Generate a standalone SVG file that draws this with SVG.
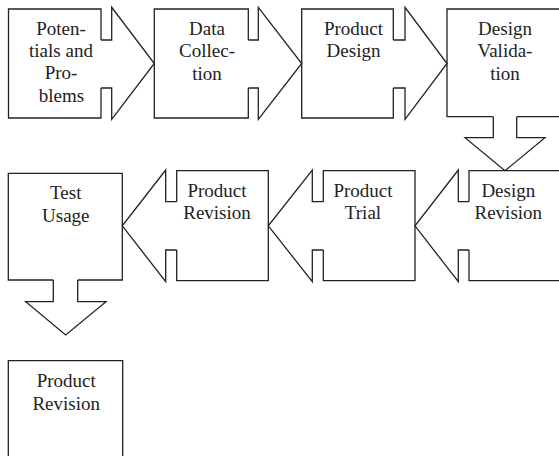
<svg xmlns="http://www.w3.org/2000/svg" width="559" height="456" viewBox="0 0 559 456">
<style>
.box{fill:none;stroke:#222;stroke-width:1.3;stroke-linejoin:miter}
.arr{fill:none;stroke:#222;stroke-width:1.3;stroke-linejoin:miter}
text{font-family:"Liberation Serif","Times New Roman",serif;font-size:19px;fill:#222;text-anchor:middle}
</style>
<rect x="0" y="0" width="559" height="456" fill="#fff"/>
<g id="connectors">
<path class="arr" d="M101,40 H111.7 V7.3 L154.3,63.5 L111.7,119.3 V88 H101"/>
<path class="arr" d="M248.3,40 H258.3 V7.3 L301.7,63.5 L258.3,119.3 V88 H248.3"/>
<path class="arr" d="M393.3,40 H405 V7.3 L447,63.5 L405,119.3 V88 H393.3"/>
<path class="arr" d="M493.3,116.7 V137.7 H465 L505,170.7 L545,137.7 H516.7 V116.7"/>
<path class="arr" d="M469,201.7 H458.3 V170 L415,225.8 L458.3,281.7 V250 H469"/>
<path class="arr" d="M323.3,201.7 H312.3 V170 L268.3,225.8 L312.3,281.7 V250 H323.3"/>
<path class="arr" d="M176.7,201.7 H165.7 V170 L122.3,225.8 L165.7,281.7 V250 H176.7"/>
<path class="arr" d="M53.3,280 V301.7 H25.7 L65.7,335 L106,301.7 H77.7 V280"/>
</g>
<g id="potentials">
<path class="box" d="M101,40 V9 H8.5 V118 H101 V88"/>
<text x="61" y="34.5">Poten-</text>
<text x="61" y="56.8">tials and</text>
<text x="61" y="79.1">Pro-</text>
<text x="61.5" y="101.5">blems</text>
</g>
<g id="data-collection">
<path class="box" d="M248.3,40 V9 H154.3 V118 H248.3 V88"/>
<text x="207" y="35">Data</text>
<text x="207" y="57.3">Collec-</text>
<text x="207" y="79.6">tion</text>
</g>
<g id="product-design">
<path class="box" d="M393.3,40 V9 H301.7 V118 H393.3 V88"/>
<text x="353.5" y="35">Product</text>
<text x="353.5" y="57.3">Design</text>
</g>
<g id="design-validation">
<path class="box" d="M493.3,116.7 H447 V9 H565 V116.7 H516.7"/>
<text x="505" y="35">Design</text>
<text x="505" y="57.3">Valida-</text>
<text x="505" y="79.6">tion</text>
</g>
<g id="design-revision">
<path class="box" d="M469,201.7 V170.7 H565 V280.7 H469 V250"/>
<text x="508.3" y="196.7">Design</text>
<text x="508.3" y="219">Revision</text>
</g>
<g id="product-trial">
<path class="box" d="M323.3,201.7 V170.7 H415 V280.7 H323.3 V250"/>
<text x="363" y="196.7">Product</text>
<text x="363" y="219">Trial</text>
</g>
<g id="product-revision-1">
<path class="box" d="M176.7,201.7 V170.7 H268.3 V280.7 H176.7 V250"/>
<text x="217" y="196.7">Product</text>
<text x="217" y="219">Revision</text>
</g>
<g id="test-usage">
<path class="box" d="M53.3,280 H8.3 V173.3 H122.3 V280 H77.7"/>
<text x="65.8" y="199.3">Test</text>
<text x="65.8" y="221.6">Usage</text>
</g>
<g id="product-revision-2">
<path class="box" d="M8.3,462 V360.7 H122.7 V462"/>
<text x="66.2" y="387.3">Product</text>
<text x="66.2" y="409.6">Revision</text>
</g>
</svg>
